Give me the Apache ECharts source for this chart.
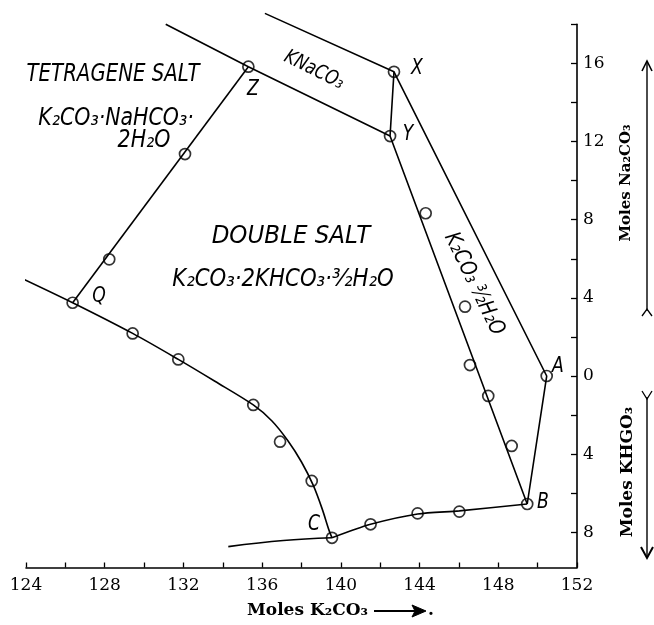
<!DOCTYPE html>
<html><head><meta charset="utf-8">
<script src="https://cdn.jsdelivr.net/npm/echarts@6/dist/echarts.min.js"></script>
<style>html,body{margin:0;padding:0;background:#fff}#c{width:654px;height:625px}</style>
</head><body><div id="c"></div>
<script>
// ---- axis ticks / labels ----
const xLabelValues = [124, 128, 132, 136, 140, 144, 148, 152];
const yTickValues = [-8, -6, -4, -2, 0, 2, 4, 6, 8, 10, 12, 14, 16, 18];
const yLabelValues = [-8, -4, 0, 4, 8, 12, 16];

// ---- boundary curves (x = moles K2CO3, y = moles Na2CO3, negative = moles KHCO3) ----
const curveQC = [[123.53, 5.12], [126.37, 3.75], [129.42, 2.18], [131.74, 0.85], [133.6, -0.27],
                 [135.55, -1.48], [136.5, -2.3], [137.3, -3.3], [138.0, -4.4], [138.6, -5.6],
                 [139.05, -6.8], [139.4, -7.9], [139.55, -8.28]];
const lineQZ = [[126.37, 3.75], [135.30, 15.83]];
const lineZY = [[131.10, 18.0], [135.30, 15.83], [142.50, 12.28]];
const lineXAB = [[136.14, 18.56], [142.70, 15.57], [150.46, 0.0], [149.47, -6.55]];
const lineXYB = [[142.70, 15.57], [142.50, 12.28], [149.47, -6.55]];
const curveLeftC = [[134.28, -8.73], [137.08, -8.42], [139.55, -8.28]];
const curveCB = [[139.55, -8.28], [141.51, -7.59], [143.90, -7.06], [146.02, -6.90], [149.47, -6.55]];

// ---- measured points ----
const pointsX = [126.37, 128.23, 132.08, 135.30, 142.70, 142.50, 144.31, 146.31, 146.56, 147.49, 148.68,
                 150.46, 149.47, 146.02, 143.90, 141.51, 139.55, 129.42, 131.74, 135.55, 136.91, 138.52];
const pointsY = [3.75, 5.97, 11.36, 15.83, 15.57, 12.28, 8.33, 3.55, 0.56, -1.02, -3.58,
                 0.0, -6.55, -6.94, -7.03, -7.59, -8.28, 2.18, 0.85, -1.48, -3.36, -5.37];

const chart = echarts.init(document.getElementById('c'), null, {renderer: 'canvas'});

const lineStyle = {color: '#000', width: 1.6};
function lineSeries(data, smooth) {
  return {type: 'line', data: data, symbol: 'none', smooth: smooth || false, clip: false,
          lineStyle: lineStyle, silent: true, z: 2};
}

const handFont = '"DejaVu Sans"';
function hand(text, x, y, size, rot, sx) {
  return {type: 'text', x: x, y: y, rotation: rot || 0, scaleX: sx || 0.82, z: 10,
          style: {text: text, fill: '#000', font: 'italic ' + size + 'px ' + handFont,
                  textAlign: 'center', textVerticalAlign: 'middle', align: 'center', verticalAlign: 'middle'}};
}
function serif(text, x, y, size, rot, align) {
  return {type: 'text', x: x, y: y, rotation: rot || 0, z: 10,
          style: {text: text, fill: '#000', font: 'bold ' + size + 'px "DejaVu Serif"',
                  textAlign: align || 'center', textVerticalAlign: 'middle',
                  align: align || 'center', verticalAlign: 'middle'}};
}
function pl(points, w) {
  return {type: 'polyline', shape: {points: points}, z: 10,
          style: {stroke: '#000', lineWidth: w || 1.4, fill: null}};
}

const option = {
  animation: false,
  backgroundColor: '#fff',
  grid: {left: 26, right: 77, top: 24.3, bottom: 57.5, containLabel: false},
  xAxis: {
    type: 'value', min: 124, max: 152, interval: 2,
    axisLine: {show: true, onZero: false, lineStyle: {color: '#000', width: 1.6}},
    axisTick: {show: true, inside: true, length: 5, lineStyle: {color: '#000', width: 1.3}},
    axisLabel: {show: true, margin: 10, color: '#000', fontFamily: 'DejaVu Serif', fontSize: 17,
                formatter: function (v) { return xLabelValues.indexOf(v) >= 0 ? String(v) : ''; }},
    splitLine: {show: false}
  },
  yAxis: {
    type: 'value', position: 'right', min: -9.8, max: 18,
    axisLine: {show: true, onZero: false, lineStyle: {color: '#000', width: 1.6}},
    axisTick: {show: true, inside: true, length: 6, customValues: yTickValues,
               lineStyle: {color: '#000', width: 1.3}},
    axisLabel: {show: true, margin: 6, color: '#000', fontFamily: 'DejaVu Serif', fontSize: 17,
                customValues: yLabelValues,
                formatter: function (v) { return String(Math.abs(v)); }},
    splitLine: {show: false}
  },
  series: [
    lineSeries(curveQC, 0.3),
    lineSeries(lineQZ),
    lineSeries(lineZY),
    lineSeries(lineXAB),
    lineSeries(lineXYB),
    lineSeries(curveLeftC, 0.4),
    lineSeries(curveCB, 0.25),
    {type: 'scatter', data: pointsX.map(function (x, i) { return [x, pointsY[i]]; }),
     symbol: 'circle', symbolSize: 11, z: 5, silent: true,
     itemStyle: {color: 'rgba(0,0,0,0)', borderColor: '#000', borderWidth: 1.7}}
  ],
  graphic: [
    hand('TETRAGENE SALT', 113, 74, 25, 0, 0.79),
    hand('K\u2082CO\u2083\u00B7NaHCO\u2083\u00B7', 116, 118, 25),
    hand('2H\u2082O', 144, 140, 25),
    hand('Z', 253, 90, 21),
    hand('Q', 99, 297, 21),
    hand('DOUBLE SALT', 291, 236, 25, 0, 0.92),
    hand('K\u2082CO\u2083\u00B72KHCO\u2083\u00B7\u00B3\u2044\u2082H\u2082O', 283, 279, 25, 0, 0.85),
    hand('KNaCO\u2083', 314, 70, 20, -0.46),
    hand('X', 417, 69, 21),
    hand('Y', 408, 135, 21),
    hand('K\u2082CO\u2083 \u00B3\u2044\u2082H\u2082O', 474, 284, 22, -1.12),
    hand('A', 558, 367, 21),
    hand('B', 543, 503, 21),
    hand('C', 314, 525, 21),
    serif('Moles K\u2082CO\u2083', 247, 611, 17, 0, 'left'),
    pl([[374, 611], [418, 611]], 2),
    {type: 'polygon', shape: {points: [[412, 605], [426, 611], [412, 617], [415, 611]]}, z: 10,
     style: {fill: '#000', stroke: '#000', lineWidth: 1}},
    serif('.', 431, 611, 17, 0, 'center'),
    serif('Moles Na\u2082CO\u2083', 626, 183, 15, Math.PI / 2),
    serif('Moles KHGO\u2083', 628, 472, 17, Math.PI / 2),
    pl([[647, 62], [647, 311]]),
    pl([[642, 71], [647, 61], [652, 71]], 1.6),
    pl([[642, 316], [647, 309], [652, 316]], 1.3),
    pl([[647, 397], [647, 557]]),
    pl([[642, 391], [647, 399], [652, 391]], 1.3),
    pl([[641, 547], [647, 558], [653, 547]], 2)
  ]
};
chart.setOption(option);
</script>
</body></html>
